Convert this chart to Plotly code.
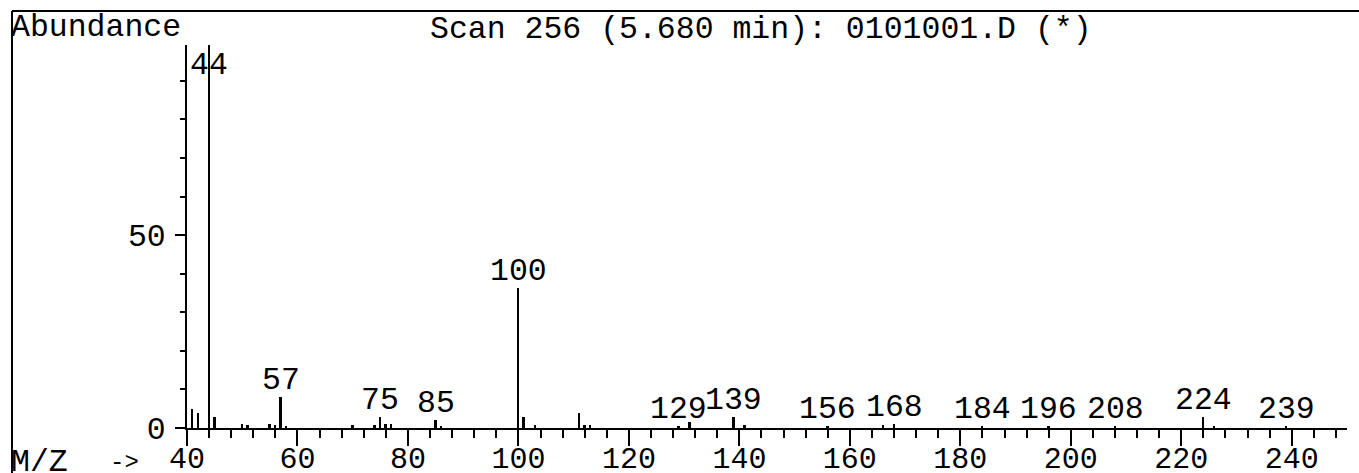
import plotly.graph_objects as go

# ---- data ----
mz = [41, 42, 44, 45, 50, 51, 55, 56, 57, 58, 70, 74, 75, 76, 77, 85, 86,
      100, 101, 103, 111, 112, 113, 129, 131, 139, 141, 156, 166, 168,
      184, 196, 208, 224, 226, 239]
abundance = [4.8, 4.0, 100, 2.9, 1.0, 0.8, 1.0, 0.8, 8.1, 0.5, 0.8, 0.8, 2.9, 1.0, 1.0, 2.0, 0.6,
             36.3, 2.8, 0.8, 3.8, 0.9, 0.9, 0.6, 1.5, 2.8, 0.8, 0.4, 0.8, 1.1,
             0.4, 0.4, 0.4, 2.8, 0.5, 0.4]
labelled_mz = [44, 57, 75, 85, 100, 129, 139, 156, 168, 184, 196, 208, 224, 239]
x_tick_vals = [40, 60, 80, 100, 120, 140, 160, 180, 200, 220, 240]
y_tick_vals = [0, 50]
title_text = "Scan 256 (5.680 min): 0101001.D (*)"
y_title = "Abundance"
x_title = "M/Z"

FONT = "Liberation Mono, Courier New, monospace"
FS = 31.5
W, H = 1359, 473
L, R, T, B = 187, 12, 45, 45
PW, PH = W - L - R, H - T - B
Y_TOP = 99.3


def px_x(px):
    return (px - L) / PW


def px_y(py):
    return (H - B - py) / PH


fig = go.Figure()
fig.add_trace(go.Bar(x=mz, y=abundance, width=0.35,
                     marker=dict(color="black", line=dict(width=0)),
                     hoverinfo="x+y"))

height_of = dict(zip(mz, abundance))
ann = []
for m in labelled_mz:
    h = height_of[m]
    if h >= Y_TOP:
        ann.append(dict(x=m, y=Y_TOP, xref="x", yref="y", text=str(m), showarrow=False,
                        xanchor="center", yanchor="top", yshift=-1,
                        font=dict(family=FONT, size=FS, color="black")))
    else:
        ann.append(dict(x=m, y=h, xref="x", yref="y", text=str(m), showarrow=False,
                        xanchor="center", yanchor="bottom", yshift=-3,
                        font=dict(family=FONT, size=FS, color="black")))

ann.append(dict(x=px_x(9), y=px_y(47), xref="paper", yref="paper", text=y_title,
                showarrow=False, xanchor="left", yanchor="bottom",
                font=dict(family=FONT, size=FS, color="black")))
ann.append(dict(x=px_x(428), y=px_y(49), xref="paper", yref="paper", text=title_text,
                showarrow=False, xanchor="left", yanchor="bottom",
                font=dict(family=FONT, size=FS, color="black")))
ann.append(dict(x=px_x(9), y=px_y(482), xref="paper", yref="paper", text=x_title,
                showarrow=False, xanchor="left", yanchor="bottom",
                font=dict(family=FONT, size=FS, color="black")))
ann.append(dict(x=px_x(124), y=px_y(478), xref="paper", yref="paper", text="->",
                showarrow=False, xanchor="center", yanchor="bottom",
                font=dict(family=FONT, size=24, color="black")))

shapes = [
    dict(type="line", xref="paper", yref="paper", x0=px_x(12), x1=px_x(1359),
         y0=px_y(11), y1=px_y(11), line=dict(color="black", width=2)),
    dict(type="line", xref="paper", yref="paper", x0=px_x(12), x1=px_x(12),
         y0=px_y(11), y1=px_y(473), line=dict(color="black", width=2)),
]

fig.update_layout(
    width=W, height=H,
    margin=dict(l=L, r=R, t=T, b=B, pad=0, autoexpand=False),
    paper_bgcolor="white", plot_bgcolor="white",
    showlegend=False,
    bargap=0,
    annotations=ann,
    shapes=shapes,
    font=dict(family=FONT, size=FS, color="black"),
    xaxis=dict(range=[40, 250], tickvals=x_tick_vals, ticks="outside", ticklen=16,
               tickwidth=2, tickcolor="black", showline=True, linecolor="black",
               linewidth=2, showgrid=False, zeroline=False, automargin=False,
               ticklabelstandoff=-14,
               tickfont=dict(family=FONT, size=30, color="black"),
               minor=dict(dtick=4, tick0=40, ticks="outside", ticklen=8,
                          tickwidth=2, tickcolor="black", showgrid=False)),
    yaxis=dict(range=[0, Y_TOP], tickvals=y_tick_vals, ticks="outside", ticklen=10,
               tickwidth=2, tickcolor="black", showline=True, linecolor="black",
               linewidth=2, showgrid=False, zeroline=False, automargin=False,
               ticklabelstandoff=3,
               tickfont=dict(family=FONT, size=FS, color="black"),
               minor=dict(dtick=10, tick0=0, ticks="outside", ticklen=5,
                          tickwidth=2, tickcolor="black", showgrid=False)),
)

fig.write_html("out.html",
               config={"displayModeBar": False},
               post_script="document.body.style.margin='0px';"
                           "document.body.style.overflow='hidden';")
